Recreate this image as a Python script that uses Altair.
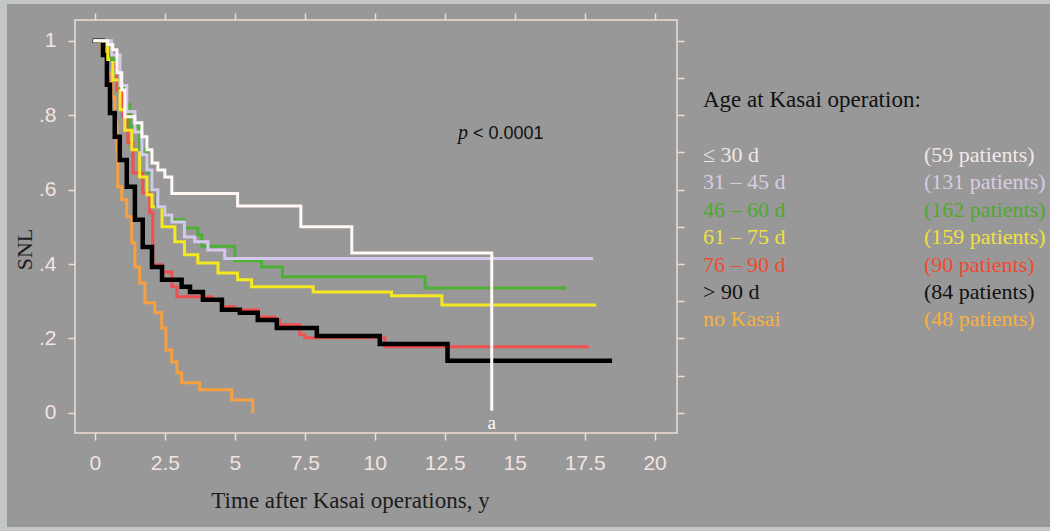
import altair as alt
import pandas as pd

# ---- data (Kaplan-Meier steps) ----
groups = ["≤ 30 d", "31 – 45 d", "46 – 60 d", "61 – 75 d", "76 – 90 d", "> 90 d", "no Kasai"]
counts = ["(59 patients)", "(131 patients)", "(162 patients)", "(159 patients)",
          "(90 patients)", "(84 patients)", "(48 patients)"]
line_colors = ["#fff8f4", "#d6c8ec", "#4cb034", "#f4e820", "#f05050", "#000000", "#f8a040"]
text_colors = ["#f4e6e6", "#d8cce2", "#50a830", "#f2e040", "#f04a30", "#111111", "#f8b040"]

t_le30 = [0, 0.46, 0.64, 0.79, 0.96, 1.07, 1.43, 1.68, 1.86, 2.04, 2.25, 2.5, 2.75, 5.1, 7.36, 9.18, 14.18]
s_le30 = [1, 0.99, 0.976, 0.914, 0.868, 0.796, 0.78, 0.742, 0.707, 0.672, 0.653, 0.634, 0.59, 0.556, 0.5, 0.43, 0.01]

t_31_45 = [0, 0.6, 0.9, 1.14, 1.43, 1.68, 1.86, 2.04, 2.25, 2.5, 2.75, 3.2, 3.57, 4.04, 4.64, 17.75]
s_31_45 = [1, 0.962, 0.88, 0.81, 0.755, 0.694, 0.653, 0.6, 0.554, 0.532, 0.513, 0.473, 0.46, 0.438, 0.415, 0.415]

t_46_60 = [0, 0.6, 0.9, 1.1, 1.25, 1.6, 1.86, 2.04, 2.2, 2.5, 2.75, 3.2, 3.68, 3.82, 5.0, 5.96, 6.7, 11.8, 16.8]
s_46_60 = [1, 0.95, 0.874, 0.828, 0.769, 0.707, 0.645, 0.6, 0.554, 0.532, 0.519, 0.497, 0.478, 0.448, 0.409, 0.392, 0.366, 0.336, 0.336]

t_61_75 = [0, 0.46, 0.64, 0.9, 1.07, 1.32, 1.6, 1.86, 2.04, 2.4, 2.86, 3.2, 3.68, 4.4, 5.1, 5.6, 7.8, 10.6, 12.4, 17.86]
s_61_75 = [1, 0.95, 0.895, 0.815, 0.76, 0.707, 0.634, 0.586, 0.554, 0.5, 0.46, 0.425, 0.403, 0.376, 0.358, 0.339, 0.325, 0.315, 0.29, 0.29]

t_76_90 = [0, 0.54, 0.64, 0.79, 1.0, 1.18, 1.36, 1.71, 1.96, 2.07, 2.4, 2.75, 2.93, 4.18, 4.54, 5.0, 5.82, 6.43, 6.6, 7.32, 7.5, 10.36, 17.6]
s_76_90 = [1, 0.962, 0.93, 0.868, 0.796, 0.726, 0.645, 0.591, 0.538, 0.398, 0.379, 0.339, 0.312, 0.304, 0.285, 0.277, 0.258, 0.25, 0.237, 0.21, 0.202, 0.178, 0.178]

t_gt90 = [0, 0.29, 0.43, 0.54, 0.71, 0.89, 1.14, 1.43, 1.71, 2.04, 2.4, 3.1, 3.4, 3.86, 4.54, 5.18, 5.82, 6.5, 7.93, 10.18, 12.6, 18.4]
s_gt90 = [1, 0.962, 0.882, 0.806, 0.742, 0.68, 0.608, 0.519, 0.446, 0.392, 0.358, 0.339, 0.325, 0.304, 0.277, 0.269, 0.25, 0.228, 0.207, 0.185, 0.14, 0.14]

t_nokasai = [0, 0.25, 0.46, 0.61, 0.71, 0.79, 0.82, 0.96, 1.14, 1.32, 1.43, 1.6, 1.79, 2.14, 2.39, 2.54, 2.75, 2.93, 3.1, 3.75, 4.89, 5.64]
s_nokasai = [1, 0.976, 0.914, 0.849, 0.78, 0.707, 0.608, 0.573, 0.527, 0.457, 0.392, 0.349, 0.296, 0.269, 0.228, 0.169, 0.137, 0.108, 0.081, 0.062, 0.035, 0.003]

x_ticks = [0, 2.5, 5, 7.5, 10, 12.5, 15, 17.5, 20]
y_ticks = [0, 0.2, 0.4, 0.6, 0.8, 1]
y_ticks_right = [0, 0.1, 0.2, 0.3, 0.4, 0.5, 0.6, 0.7, 0.8, 0.9, 1.0]
marker_a = {"t": [14.18], "s": [-0.028], "label": ["a"]}

series_t = [t_le30, t_31_45, t_46_60, t_61_75, t_76_90, t_gt90, t_nokasai]
series_s = [s_le30, s_31_45, s_46_60, s_61_75, s_76_90, s_gt90, s_nokasai]

# ---- layout ----
BG = "#989898"
EDGE = "#c2c6c6"
FRAME = "#f0dcd4"
LBL = "#f2e4e0"
L, T, W, H = 75, 20, 602, 413
xdom = [-0.71, 20.8]
ydom = [-0.054, 1.056]
xs = alt.Scale(domain=xdom, nice=False, zero=False)
ys = alt.Scale(domain=ydom, nice=False, zero=False)

def px(x):
    return alt.value(x - L)

def py(y):
    return alt.value(y - T)

x_axis = alt.Axis(values=x_ticks, labelExpr="format(datum.value, '.1~f')",
                  title="Time after Kasai operations, y",
                  grid=False, domain=False, tickSize=7, tickWidth=1.5, tickColor=FRAME,
                  labelColor=LBL, labelFont="Liberation Sans Narrow, Liberation Sans",
                  labelFontSize=21, labelPadding=12,
                  titleFont="Liberation Serif", titleFontSize=23, titleFontWeight="normal",
                  titleColor="#1c1c1c", titleX=275, titleY=74, titleBaseline="alphabetic",
                  titleAnchor="middle", titleAlign="center")
y_axis = alt.Axis(values=y_ticks, title="SNL",
                  labelExpr="datum.value == 0 ? '0' : datum.value == 1 ? '1' : replace(format(datum.value, '.1f'), '0.', '.')",
                  grid=False, domain=False, tickSize=7, tickWidth=1.5, tickColor=FRAME,
                  labelColor=LBL, labelFont="Liberation Sans Narrow, Liberation Sans",
                  labelFontSize=21, labelPadding=12,
                  titleFont="Liberation Serif", titleFontSize=22, titleFontWeight="normal",
                  titleColor="#1c1c1c", titleX=-44, titleY=229, titleAngle=-90,
                  titleBaseline="alphabetic", titleAlign="center")

layers = []

# light scan border of the original picture
edge_df = pd.DataFrame({"k": [0]})
for (x1, x2, y1, y2) in [(0, 7, 0, 531), (0, 1050, 0, 4), (0, 1050, 527, 531)]:
    layers.append(alt.Chart(edge_df).mark_rect(color=EDGE)
                  .encode(x=px(x1), x2=px(x2), y=py(y1), y2=py(y2)))

order = [6, 4, 5, 3, 2, 1, 0]  # drawing order (white on top)
for k, i in enumerate(order):
    df = pd.DataFrame({"t": series_t[i], "s": series_s[i]})
    first = k == 0
    layers.append(
        alt.Chart(df).mark_line(interpolate="step-after",
                                strokeWidth=4.5 if i == 5 else 3,
                                color=line_colors[i], strokeCap="square")
        .encode(x=alt.X("t:Q", scale=xs, axis=x_axis if first else None),
                y=alt.Y("s:Q", scale=ys, axis=y_axis if first else None))
    )

# mirrored tick axes (top/right) attached to the "a" marker
a_df = pd.DataFrame(marker_a)
layers.append(
    alt.Chart(a_df).mark_text(font="Liberation Serif", fontSize=19, color="#fff8f4",
                              baseline="middle", align="center")
    .encode(x=alt.X("t:Q", scale=xs,
                    axis=alt.Axis(orient="top", values=x_ticks, labels=False, title=None,
                                  grid=False, domain=False, tickSize=7, tickWidth=1.5,
                                  tickColor=FRAME)),
            y=alt.Y("s:Q", scale=ys,
                    axis=alt.Axis(orient="right", values=y_ticks_right, labels=False, title=None,
                                  grid=False, domain=False, tickSize=7, tickWidth=1.5,
                                  tickColor=FRAME)),
            text="label:N")
)

one = pd.DataFrame({"k": [0]})

def txt(s, x, y, color, size=22, font="Liberation Serif", style="normal", align="left"):
    return alt.Chart(one).mark_text(text=s, font=font, fontSize=size, color=color,
                                    fontStyle=style, align=align, baseline="alphabetic"
                                    ).encode(x=px(x), y=py(y))

# p-value annotation
layers.append(txt("p", 458, 139, "#111111", size=20, style="italic"))
layers.append(txt("< 0.0001", 473, 139, "#111111", size=18, font="Liberation Sans Narrow, Liberation Sans"))

# custom legend
layers.append(txt("Age at Kasai operation:", 703, 107, "#111111", size=23))
for i in range(len(groups)):
    yb = 162 + i * 27.4
    layers.append(txt(groups[i], 703, yb, text_colors[i]))
    layers.append(txt(counts[i], 924, yb, text_colors[i]))

chart = (alt.layer(*layers)
         .resolve_axis(x="independent", y="independent")
         .properties(width=W, height=H,
                     padding={"left": L, "top": T, "right": 1050 - L - W, "bottom": 531 - T - H},
                     autosize=alt.AutoSizeParams(type="none"),
                     background=BG)
         .configure_view(stroke=FRAME, strokeWidth=1.5))

chart.save("out.html", embed_options={"renderer": "svg", "actions": False})
